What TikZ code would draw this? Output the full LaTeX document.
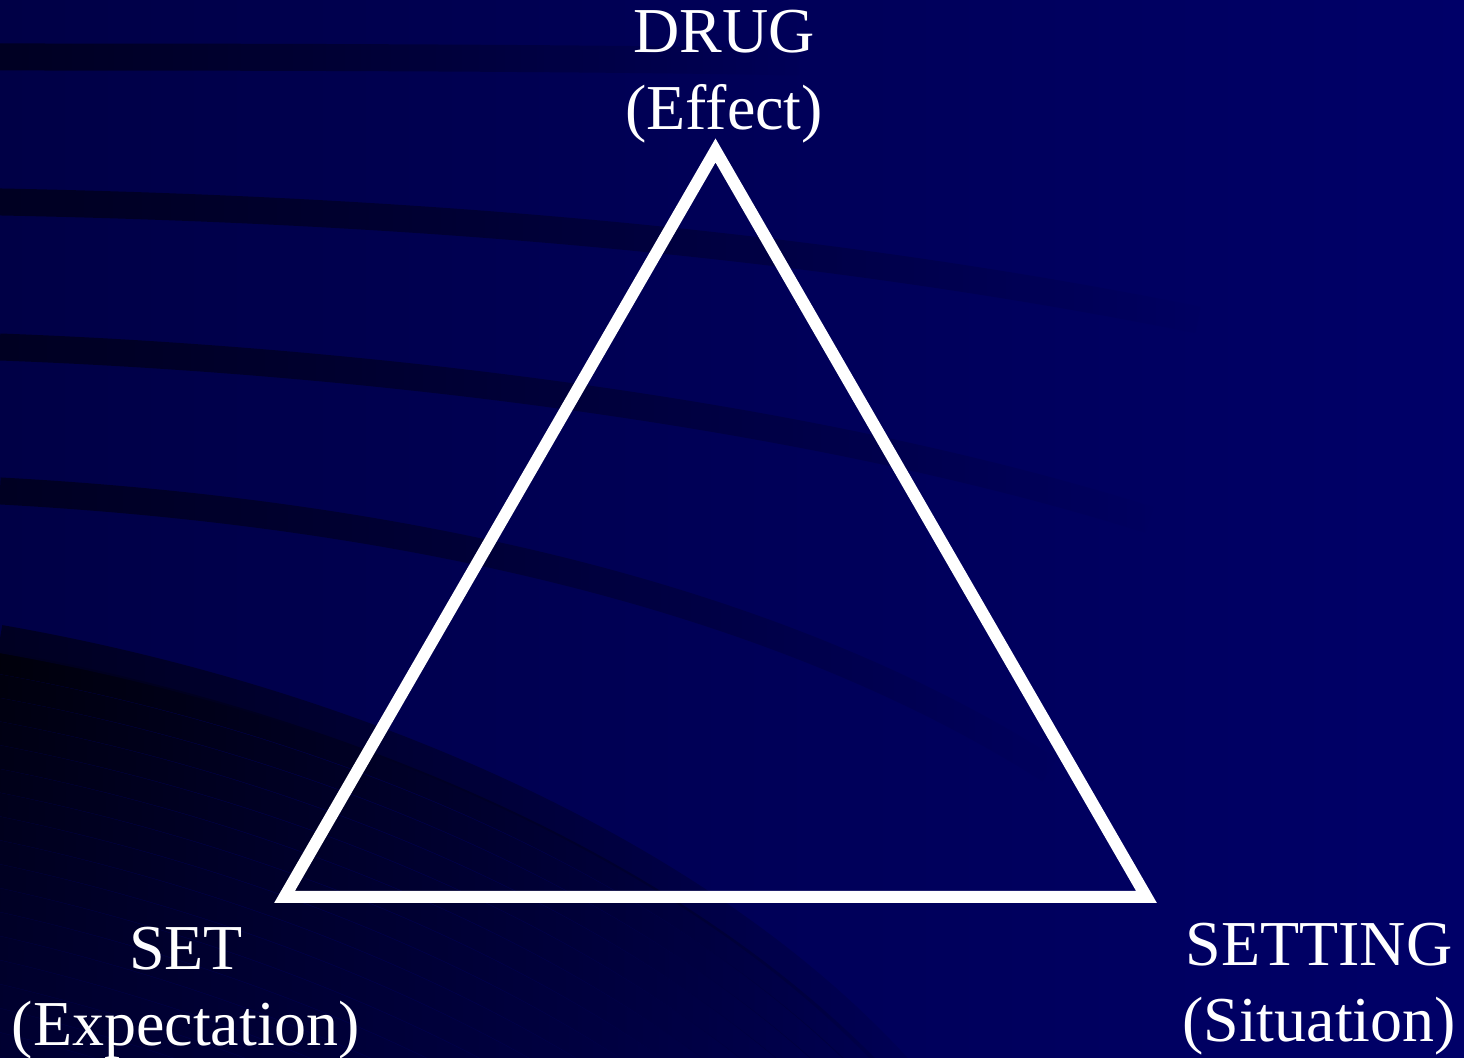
\documentclass[tikz,border=0pt]{standalone}
\usepackage{fontspec}
\setmainfont{Liberation Serif}
\usetikzlibrary{fadings}
\definecolor{bgL}{RGB}{0,0,70}
\definecolor{bgR}{RGB}{0,0,104}
\definecolor{stripecol}{RGB}{0,0,34}
\tikzfading[name=fadeR, left color=transparent!0, middle color=transparent!30, right color=transparent!100]
\tikzfading[name=fadeS, left color=transparent!0, middle color=transparent!10, right color=transparent!90]
\begin{document}
\begin{tikzpicture}[x=0.5pt,y=-0.5pt,
  lbl/.style={text=white, font=\fontsize{32}{38}\selectfont, inner sep=0pt, anchor=base},
  stripe/.style={draw=stripecol, line width=13.5pt, path fading=fadeR},
  lowstripe/.style={draw=stripecol, line width=14pt, path fading=fadeS},
  shadowline/.style={draw=black, line width=11.5pt, path fading=fadeS},
  tri/.style={draw=white, line width=6pt, line join=miter}]
\useasboundingbox (0,0) rectangle (1464,1058);
\begin{scope}
  \clip (0,0) rectangle (1464,1058);
  \shade[left color=bgL, right color=bgR] (0,0) rectangle (1464,1058);
  % shadow under the lowest arc
  \foreach \k in {1,...,20}{
    \pgfmathsetmacro\op{0.88-0.032*\k}
    \draw[shadowline, draw opacity=\op, shift={(-0.4*22*\k,22*\k)}]
      (0,639) .. controls (350,700) and (700,850) .. (900,1070);
  }
  % curved stripes
  \draw[stripe] (0,57) .. controls (300,57) and (600,58) .. (800,62);
  \draw[stripe] (0,202) .. controls (400,210) and (800,240) .. (1200,320);
  \draw[stripe] (0,347) .. controls (350,360) and (800,410) .. (1150,520);
  \draw[stripe] (0,491) .. controls (350,510) and (750,580) .. (1050,770);
  \draw[lowstripe] (0,639) .. controls (350,700) and (700,850) .. (900,1070);
\end{scope}
% triangle
\coordinate (top) at (715.5,150.5);
\coordinate (bl) at (284.5,897);
\coordinate (br) at (1146.5,897);
\draw[tri] (top) -- (br) -- (bl) -- cycle;
% labels
\node[lbl] (drug) at (724,53) {DRUG};
\node[lbl] (effect) at (724,130) {(Effect)};
\node[lbl] (set) at (186,970) {SET};
\node[lbl] (expect) at (186,1046) {(Expectation)};
\node[lbl] (setting) at (1319,966) {SETTING};
\node[lbl] (situation) at (1319,1042) {(Situation)};
\end{tikzpicture}
\end{document}
